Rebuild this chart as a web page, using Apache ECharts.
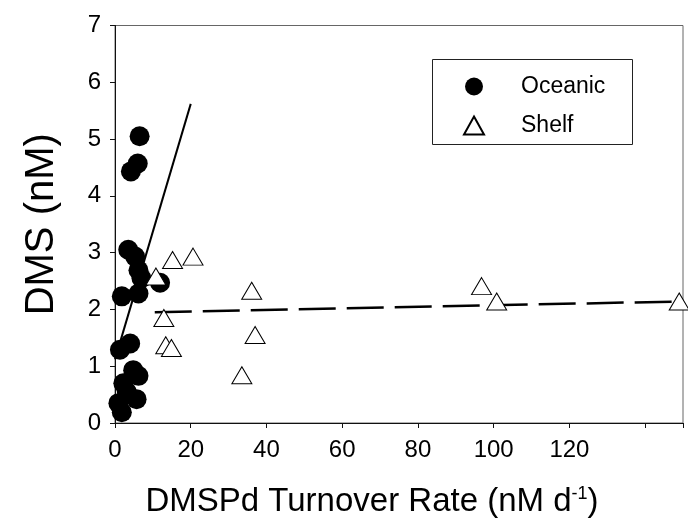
<!DOCTYPE html>
<html>
<head>
<meta charset="utf-8">
<script src="https://cdn.jsdelivr.net/npm/echarts@6/dist/echarts.min.js"></script>
<style>
  html, body { margin: 0; padding: 0; background: #fff; }
  #chart { width: 688px; height: 529px; }
</style>
</head>
<body>
<div id="chart"></div>
<script>
// DMS concentration vs. DMSPd turnover rate, oceanic and shelf stations
const oceanicRate = [6.5, 4.2, 6.0, 3.5, 5.3, 6.2, 7.0, 11.9, 1.8, 6.2, 4.0, 1.3, 4.8, 6.2, 2.2, 3.1, 5.7, 0.9, 1.8];
const oceanicDMS  = [5.05, 4.43, 4.57, 3.05, 2.93, 2.69, 2.55, 2.47, 2.23, 2.28, 1.40, 1.29, 0.93, 0.83, 0.70, 0.55, 0.42, 0.35, 0.19];

const shelfRate = [15.2, 20.6, 10.8, 36.1, 12.9, 13.4, 14.9, 37.0, 33.5, 96.8, 100.8, 149.0];
const shelfDMS  = [2.87, 2.93, 2.58, 2.33, 1.85, 1.37, 1.32, 1.55, 0.84, 2.41, 2.14, 2.14];

// regression line end points
const oceanicFitRate = [0, 20];
const oceanicFitDMS  = [1.12, 5.62];
const shelfFitRate = [10.5, 149];
const shelfFitDMS  = [1.95, 2.14];

const xTicksShown = [0, 20, 40, 60, 80, 100, 120];

const pairs = (xs, ys) => xs.map((x, i) => [x, ys[i]]);
const FONT = '"Liberation Sans", Arial, sans-serif';

const chart = echarts.init(document.getElementById('chart'), null, { renderer: 'canvas' });

chart.setOption({
  animation: false,
  backgroundColor: '#fff',
  grid: {
    left: 115, right: 5, top: 25.5, bottom: 106,
    show: true, borderColor: '#666', borderWidth: 1
  },
  xAxis: {
    type: 'value', min: 0, max: 150, interval: 20,
    axisLine: { lineStyle: { color: '#111', width: 1 } },
    axisTick: { inside: false, length: 5, lineStyle: { color: '#111' } },
    splitLine: { show: false },
    axisLabel: {
      margin: 15, fontSize: 24, color: '#000', fontFamily: FONT,
      formatter: v => (xTicksShown.indexOf(v) >= 0 ? String(v) : '')
    },
    name: 'DMSPd Turnover Rate (nM d{sup|-1})',
    nameLocation: 'middle', nameGap: 62,
    nameTextStyle: {
      fontSize: 33, color: '#000', fontFamily: FONT, padding: [0, 54, 0, 0],
      rich: { sup: { fontSize: 18, color: '#000', fontFamily: FONT, padding: [0, 0, 15, 0] } }
    }
  },
  yAxis: {
    type: 'value', min: 0, max: 7, interval: 1,
    axisLine: { lineStyle: { color: '#111', width: 1 } },
    axisTick: { inside: false, length: 5, lineStyle: { color: '#111' } },
    splitLine: { show: false },
    axisLabel: { margin: 14, fontSize: 24, color: '#000', fontFamily: FONT },
    name: 'DMS (nM)', nameLocation: 'middle', nameGap: 53,
    nameTextStyle: { fontSize: 40, color: '#000', fontFamily: FONT }
  },
  legend: {
    data: ['Oceanic', 'Shelf'],
    orient: 'vertical', left: 463, top: 75,
    itemWidth: 20, itemHeight: 18, itemGap: 16, padding: 0,
    textStyle: { fontSize: 23, color: '#000', fontFamily: FONT, padding: [0, 0, 0, 32] }
  },
  graphic: [{
    type: 'rect', left: 432, top: 59, z: -1,
    shape: { width: 200, height: 85 },
    style: { fill: '#fff', stroke: '#222', lineWidth: 1 }
  }],
  series: [
    {
      name: 'Oceanic fit', type: 'line', data: pairs(oceanicFitRate, oceanicFitDMS),
      showSymbol: false, silent: true, z: 1,
      lineStyle: { color: '#000', width: 2 }
    },
    {
      name: 'Shelf fit', type: 'line', data: pairs(shelfFitRate, shelfFitDMS),
      showSymbol: false, silent: true, z: 1,
      lineStyle: { color: '#000', width: 2.5, type: [37, 11] }
    },
    {
      name: 'Oceanic', type: 'scatter', data: pairs(oceanicRate, oceanicDMS),
      symbol: 'circle', symbolSize: 20, clip: false, z: 2,
      itemStyle: { color: '#000', opacity: 1 }
    },
    {
      name: 'Shelf', type: 'scatter', data: pairs(shelfRate, shelfDMS),
      symbol: 'triangle', symbolSize: [20, 17], clip: false, z: 3,
      itemStyle: { color: '#fff', borderColor: '#000', borderWidth: 1, opacity: 1 }
    }
  ]
});
</script>
</body>
</html>
